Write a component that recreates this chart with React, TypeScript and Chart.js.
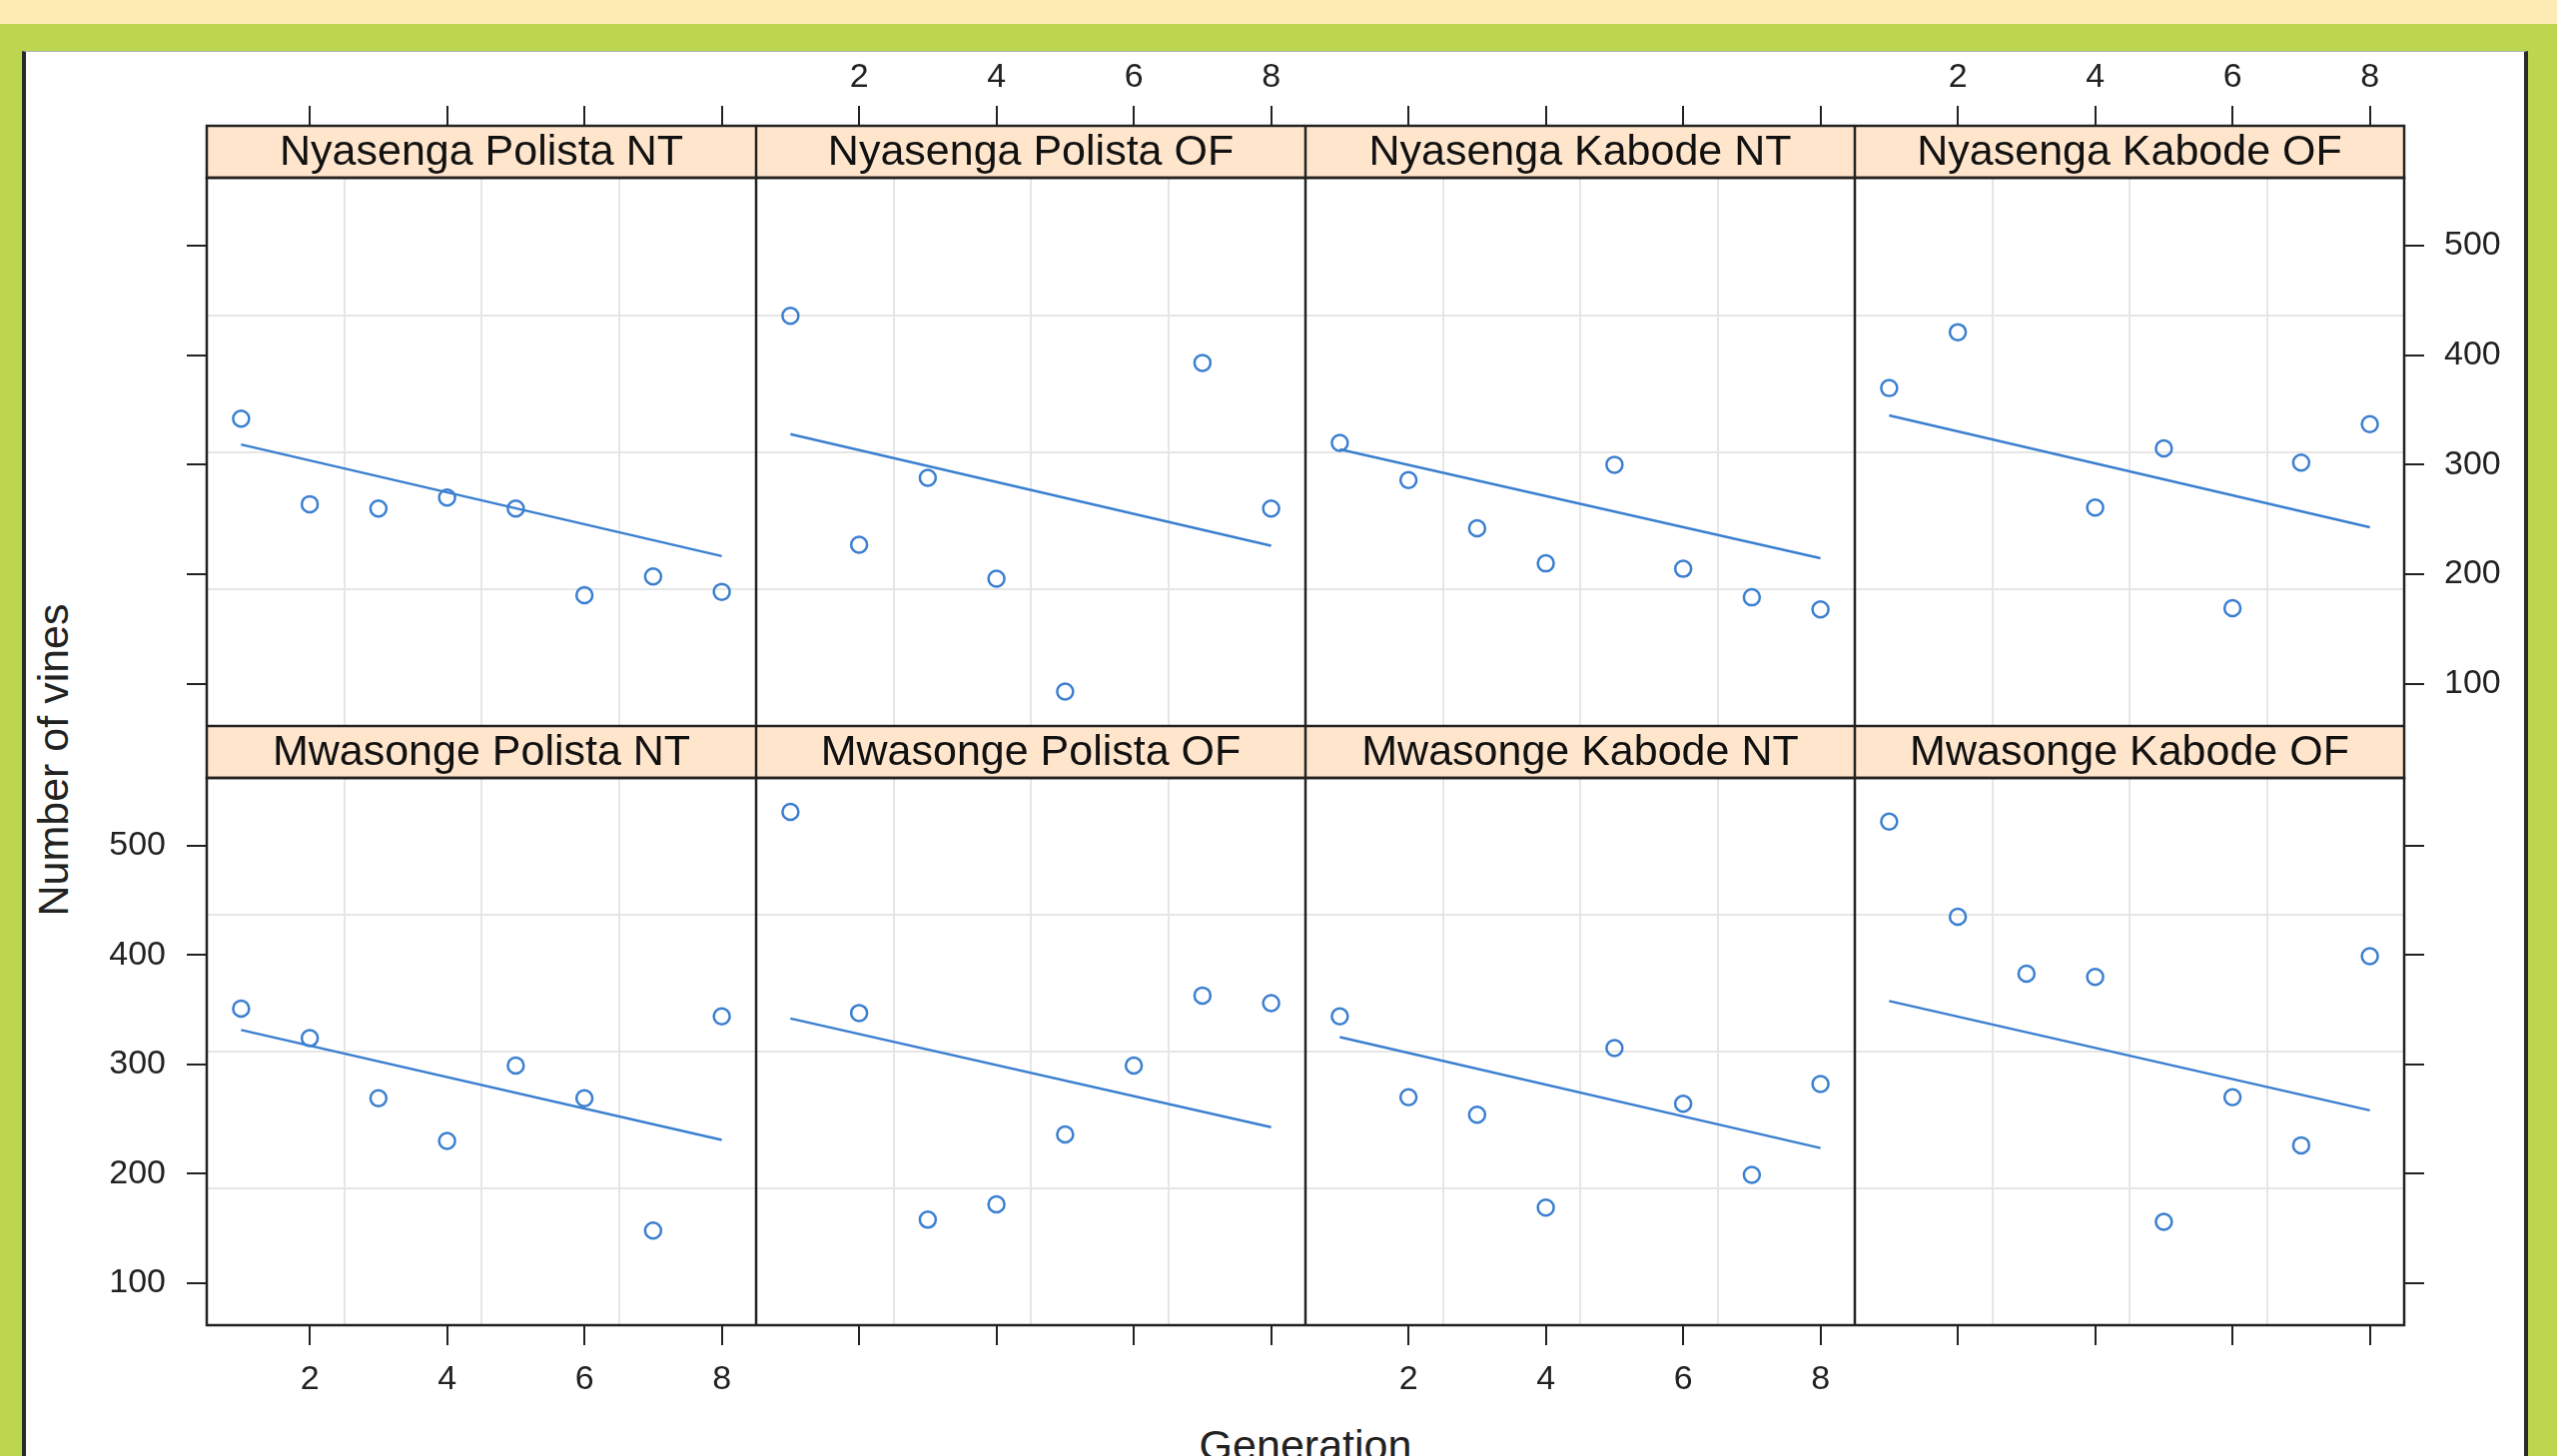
import React, { useEffect, useRef } from "react";
import { Chart, registerables } from "chart.js";

Chart.register(...registerables);

// ---------- data ----------
const generations = [1, 2, 3, 4, 5, 6, 7, 8];

const panelNames = [
  "Nyasenga Polista NT",
  "Nyasenga Polista OF",
  "Nyasenga Kabode NT",
  "Nyasenga Kabode OF",
  "Mwasonge Polista NT",
  "Mwasonge Polista OF",
  "Mwasonge Kabode NT",
  "Mwasonge Kabode OF",
];

const nyasengaPolistaNT = [342, 264, 260, 270, 260, 181, 198, 184];
const nyasengaPolistaOF = [436, 227, 288, 196, 93, null, 393, 260];
const nyasengaKabodeNT = [320, 286, 242, 210, 300, 205, 179, 168];
const nyasengaKabodeOF = [370, 421, null, 261, 315, 169, 302, 337];
const mwasongePolistaNT = [351, 324, 269, 230, 299, 269, 148, 344];
const mwasongePolistaOF = [531, 347, 158, 172, 236, 299, 363, 356];
const mwasongeKabodeNT = [344, 270, 254, 169, 315, 264, 199, 282];
const mwasongeKabodeOF = [522, 435, 383, 380, 156, 270, 226, 399];

const panelValues = [
  nyasengaPolistaNT,
  nyasengaPolistaOF,
  nyasengaKabodeNT,
  nyasengaKabodeOF,
  mwasongePolistaNT,
  mwasongePolistaOF,
  mwasongeKabodeNT,
  mwasongeKabodeOF,
];

// fitted line (model fit) read at generation 1 and generation 8
const fitGenerations = [1, 8];
const fitAtFirst = [318.5, 328, 314, 345, 331.5, 342, 325, 358];
const fitAtLast = [216.6, 226, 214.7, 243, 231, 242.5, 223.5, 258];

const xTickValues = [2, 4, 6, 8];
const yTickValues = [100, 200, 300, 400, 500];
const xGridValues = [2.5, 4.5, 6.5];
const yGridValues = [186.5, 311.5, 436.5];
const xLimits = [0.5, 8.5];
const yLimits = [61.5, 562];

// ---------- style / layout ----------
const FONT = '"Liberation Sans", Arial, Helvetica, sans-serif';
const BLUE = "#3a7fd0";
const INK = "#222222";

const COL_LEFT = [100, 757, 1307, 1857];
const COL_WIDTH = [657, 550, 550, 670];
const ROW_TOP = [52, 727];
const ROW_HEIGHT = [675, 680];

const panelFrame = {
  id: "panelFrame",
  beforeDraw(chart: any) {
    const s = chart.scales.strip;
    const { ctx, chartArea } = chart;
    ctx.save();
    ctx.fillStyle = "#FFE5CC";
    ctx.fillRect(chartArea.left, s.top, chartArea.right - chartArea.left, s.bottom - s.top);
    ctx.restore();
  },
  afterDraw(chart: any) {
    const s = chart.scales.strip;
    const { ctx, chartArea } = chart;
    ctx.save();
    ctx.strokeStyle = INK;
    ctx.lineWidth = 2.5;
    ctx.strokeRect(chartArea.left, chartArea.top, chartArea.right - chartArea.left, chartArea.bottom - chartArea.top);
    ctx.strokeRect(chartArea.left, s.top, chartArea.right - chartArea.left, s.bottom - s.top);
    ctx.restore();
  },
};

const noScalePadding = (s: any) => {
  s.paddingTop = 0;
  s.paddingBottom = 0;
  s.paddingLeft = 0;
  s.paddingRight = 0;
};

function Panel({ index }: { index: number }) {
  const ref = useRef<HTMLCanvasElement>(null);
  const row = Math.floor(index / 4);
  const col = index % 4;
  const width = COL_WIDTH[col];
  const height = ROW_HEIGHT[row];

  useEffect(() => {
    if (!ref.current) return;
    const isTop = row === 0;
    const showXLabels = isTop ? col === 1 || col === 3 : col === 0 || col === 2;
    const hasYAxis = col === 0 || col === 3;
    const showYLabels = (col === 0 && row === 1) || (col === 3 && row === 0);
    const values = panelValues[index];

    const points = generations
      .map((g, i) => ({ x: g, y: values[i] }))
      .filter((p) => p.y !== null);
    const fitLine = [
      { x: fitGenerations[0], y: fitAtFirst[index] },
      { x: fitGenerations[1], y: fitAtLast[index] },
    ];

    const chart = new Chart(ref.current, {
      type: "scatter",
      data: {
        datasets: [
          {
            data: points,
            showLine: false,
            pointStyle: "circle",
            pointRadius: 8,
            pointBorderWidth: 2.5,
            pointBorderColor: BLUE,
            pointBackgroundColor: "rgba(0,0,0,0)",
          },
          {
            data: fitLine,
            showLine: true,
            pointRadius: 0,
            borderColor: BLUE,
            borderWidth: 2.5,
          },
        ],
      } as any,
      options: {
        animation: false,
        responsive: false,
        events: [],
        layout: { padding: 0, autoPadding: false },
        plugins: {
          legend: { display: false },
          title: { display: false },
          tooltip: { enabled: false },
        },
        scales: {
          x: {
            type: "linear",
            position: isTop ? "top" : "bottom",
            min: xLimits[0],
            max: xLimits[1],
            weight: 10,
            afterBuildTicks: (s: any) => {
              s.ticks = xTickValues.map((v) => ({ value: v }));
            },
            afterFit: (s: any) => {
              s.height = isTop ? 74 : 80;
              noScalePadding(s);
            },
            grid: { drawOnChartArea: false, drawTicks: true, tickLength: 20, color: INK, lineWidth: 2 },
            border: { display: false },
            ticks: {
              display: showXLabels,
              font: { family: FONT, size: 34 },
              color: INK,
              padding: isTop ? 8 : 14,
              maxRotation: 0,
              autoSkip: false,
            },
          },
          strip: {
            type: "linear",
            position: "top",
            min: xLimits[0],
            max: xLimits[1],
            weight: 0,
            afterFit: (s: any) => {
              s.height = 52;
              noScalePadding(s);
            },
            grid: { display: false },
            border: { display: false },
            ticks: { display: false },
            title: {
              display: true,
              text: panelNames[index],
              font: { family: FONT, size: 43 },
              color: "#111111",
              padding: { top: 1, bottom: 0 },
            },
          },
          gx: {
            type: "linear",
            position: "bottom",
            min: xLimits[0],
            max: xLimits[1],
            weight: 30,
            afterBuildTicks: (s: any) => {
              s.ticks = xGridValues.map((v) => ({ value: v }));
            },
            afterFit: (s: any) => {
              s.height = 0;
              noScalePadding(s);
            },
            grid: { drawOnChartArea: true, drawTicks: false, color: "#e6e6e6", lineWidth: 2 },
            border: { display: false },
            ticks: { display: false },
          },
          y: {
            type: "linear",
            position: col === 3 ? "right" : "left",
            display: hasYAxis,
            min: yLimits[0],
            max: yLimits[1],
            weight: 10,
            afterBuildTicks: (s: any) => {
              s.ticks = yTickValues.map((v) => ({ value: v }));
            },
            afterFit: (s: any) => {
              s.width = hasYAxis ? (col === 3 ? 120 : 107) : 0;
              noScalePadding(s);
            },
            grid: { drawOnChartArea: false, drawTicks: true, tickLength: 20, color: INK, lineWidth: 2 },
            border: { display: false },
            ticks: {
              display: showYLabels,
              font: { family: FONT, size: 34 },
              color: INK,
              padding: col === 3 ? 20 : 21,
            },
          },
          gy: {
            type: "linear",
            position: "left",
            min: yLimits[0],
            max: yLimits[1],
            weight: 0,
            afterBuildTicks: (s: any) => {
              s.ticks = yGridValues.map((v) => ({ value: v }));
            },
            afterFit: (s: any) => {
              s.width = 0;
              noScalePadding(s);
            },
            grid: { drawOnChartArea: true, drawTicks: false, color: "#e6e6e6", lineWidth: 2 },
            border: { display: false },
            ticks: { display: false },
          },
        },
      } as any,
      plugins: [panelFrame],
    });
    return () => chart.destroy();
  }, [index, row, col]);

  return (
    <canvas
      ref={ref}
      width={width}
      height={height}
      style={{
        position: "absolute",
        left: COL_LEFT[col],
        top: ROW_TOP[row],
        width,
        height,
      }}
    />
  );
}

export default function App() {
  return (
    <div
      style={{
        position: "absolute",
        left: 0,
        top: 0,
        width: 2560,
        height: 1458,
        overflow: "hidden",
        background: "#BCD64F",
        fontFamily: FONT,
      }}
    >
      <div style={{ position: "absolute", left: 0, top: 0, width: 2560, height: 24, background: "#FDEBB4" }} />
      <div
        style={{
          position: "absolute",
          left: 22,
          top: 51,
          width: 2509,
          height: 1500,
          boxSizing: "border-box",
          background: "#ffffff",
          borderLeft: "4px solid #2a2a2a",
          borderRight: "4px solid #2a2a2a",
          borderTop: "1px solid #b0b0b0",
        }}
      />
      <div
        style={{
          position: "absolute",
          left: 52.5,
          top: 761,
          transform: "translate(-50%, -50%) rotate(-90deg)",
          fontSize: 43,
          lineHeight: 1,
          color: INK,
          whiteSpace: "nowrap",
        }}
      >
        Number of vines
      </div>
      <div
        style={{
          position: "absolute",
          left: 1307,
          top: 1426,
          transform: "translateX(-50%)",
          fontSize: 43,
          lineHeight: 1,
          color: INK,
          whiteSpace: "nowrap",
        }}
      >
        Generation
      </div>
      {panelNames.map((_, i) => (
        <Panel key={i} index={i} />
      ))}
    </div>
  );
}
